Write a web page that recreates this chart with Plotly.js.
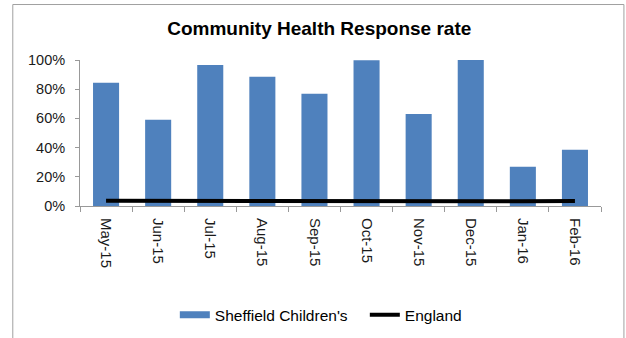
<!DOCTYPE html>
<html>
<head>
<meta charset="utf-8">
<script src="https://cdn.plot.ly/plotly-3.0.1.min.js"></script>
<style>
  html, body { margin: 0; padding: 0; background: #ffffff; }
  #chart { width: 626px; height: 338px; }
</style>
</head>
<body>
<div id="chart"></div>
<script>
// Monthly response rates, May 2015 to February 2016
const months = ["May-15", "Jun-15", "Jul-15", "Aug-15", "Sep-15", "Oct-15", "Nov-15", "Dec-15", "Jan-16", "Feb-16"];
const sheffieldRate = [0.845, 0.59, 0.965, 0.885, 0.768, 0.998, 0.63, 1.005, 0.268, 0.385];
const englandRate = [0.036, 0.035, 0.035, 0.034, 0.033, 0.032, 0.031, 0.030, 0.032, 0.035];

const font = "Liberation Sans, Arial, sans-serif";
const barBlue = "#4f81bd";

const traces = [
  {
    type: "bar",
    name: "Sheffield Children's",
    legendgroup: "sheffield",
    showlegend: false,
    x: months,
    y: sheffieldRate,
    marker: { color: barBlue },
    width: 0.5
  },
  // Legend key for the bars: a wide flat swatch rather than a small square
  {
    type: "scatter",
    mode: "lines",
    name: "Sheffield Children's",
    legendgroup: "sheffield",
    x: [months[0]],
    y: [null],
    line: { color: barBlue, width: 7 },
    hoverinfo: "skip"
  },
  {
    type: "scatter",
    mode: "lines",
    name: "England",
    x: months,
    y: englandRate,
    line: { color: "#000000", width: 4 }
  }
];

const layout = {
  width: 626,
  height: 338,
  margin: { l: 80, r: 25, t: 60, b: 132, autoexpand: false },
  paper_bgcolor: "#ffffff",
  plot_bgcolor: "#ffffff",
  font: { family: font, size: 14, color: "#1a1a1a" },
  title: {
    text: "<b>Community Health Response rate</b>",
    font: { family: font, size: 19, color: "#000000" },
    x: 0.51,
    xanchor: "center",
    y: 0.915,
    yanchor: "middle"
  },
  showlegend: true,
  legend: {
    orientation: "h",
    x: 0.182,
    xanchor: "left",
    y: -0.747,
    yanchor: "middle",
    entrywidth: 145,
    font: { family: font, size: 15.5, color: "#000000" },
    traceorder: "normal"
  },
  bargap: 0.5,
  xaxis: {
    type: "category",
    automargin: false,
    showgrid: false,
    showline: true,
    linecolor: "#999999",
    linewidth: 1,
    ticks: "outside",
    tickson: "boundaries",
    ticklen: 5,
    tickcolor: "#999999",
    tickangle: 90,
    ticklabelstandoff: 8,
    tickfont: { family: font, size: 15, color: "#1a1a1a" },
    fixedrange: true
  },
  yaxis: {
    range: [0, 1.0],
    automargin: false,
    tickvals: [0, 0.2, 0.4, 0.6, 0.8, 1.0],
    tickformat: ".0%",
    showgrid: false,
    zeroline: false,
    showline: true,
    linecolor: "#999999",
    linewidth: 1,
    ticks: "outside",
    ticklen: 4,
    tickcolor: "#999999",
    ticklabelstandoff: 7,
    tickfont: { family: font, size: 14.5, color: "#1a1a1a" },
    fixedrange: true
  },
  shapes: [
    {
      type: "rect",
      xref: "paper",
      yref: "paper",
      x0: -0.129,
      x1: 1.044,
      y0: -0.95,
      y1: 1.38,
      line: { color: "#a0a0a0", width: 1 },
      fillcolor: "rgba(0,0,0,0)",
      layer: "below"
    }
  ]
};

Plotly.newPlot("chart", traces, layout, { displayModeBar: false, staticPlot: true });
</script>
</body>
</html>
